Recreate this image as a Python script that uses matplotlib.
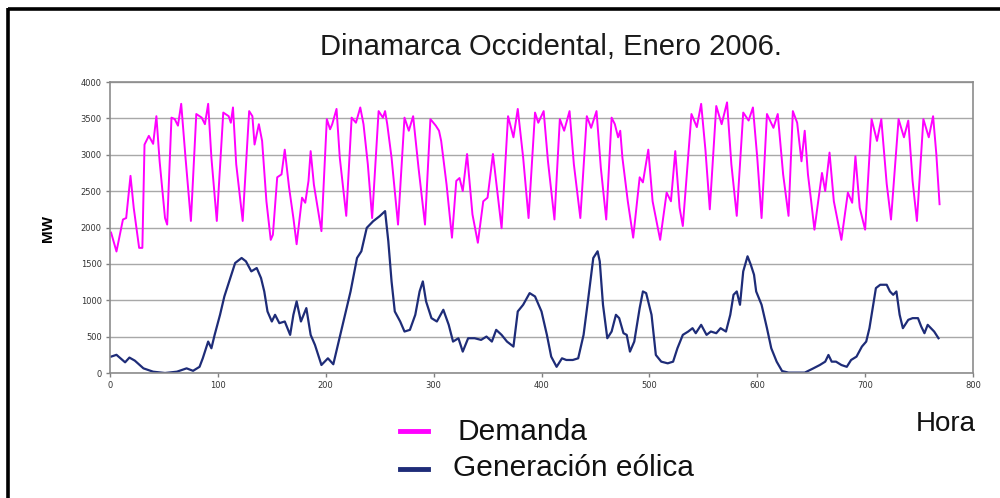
import matplotlib
matplotlib.use("Agg")
import matplotlib.pyplot as plt
from matplotlib.lines import Line2D

# ---------------- data (hour, MW) ----------------
demanda = [
    (1, 1930), (6, 1670), (12, 2110), (15, 2130), (19, 2710), (22, 2270), (27, 1720), (30, 1720),
    (32, 3140), (36, 3260), (40, 3150), (43, 3530), (46, 2910), (51, 2130), (53, 2040), (57, 3510),
    (60, 3490), (63, 3400), (66, 3700), (70, 2960), (75, 2090), (80, 3560), (85, 3510), (88, 3420),
    (91, 3700), (94, 2960), (99, 2090), (105, 3580), (110, 3530), (112, 3440), (114, 3650), (117, 2870),
    (123, 2090), (129, 3600), (132, 3530), (134, 3140), (138, 3420), (141, 3190), (145, 2360), (149, 1830),
    (151, 1900), (155, 2690), (159, 2730), (162, 3070), (166, 2550), (170, 2130), (173, 1770), (178, 2410),
    (181, 2340), (184, 2640), (186, 3050), (189, 2590), (196, 1950), (201, 3490), (204, 3350), (206, 3420),
    (210, 3630), (213, 2960), (219, 2160), (224, 3510), (228, 3440), (232, 3650), (235, 3420), (239, 2870),
    (243, 2130), (249, 3600), (253, 3510), (255, 3600), (257, 3420), (261, 2960), (267, 2040), (273, 3510),
    (277, 3330), (281, 3530), (286, 2820), (292, 2040), (297, 3490), (302, 3400), (305, 3330), (307, 3190),
    (312, 2590), (317, 1860), (321, 2640), (324, 2680), (327, 2500), (331, 3010), (336, 2180), (341, 1790),
    (346, 2360), (350, 2410), (355, 3010), (359, 2500), (363, 1990), (369, 3530), (374, 3240), (378, 3630),
    (383, 2960), (388, 2130), (394, 3580), (397, 3440), (402, 3600), (406, 2910), (412, 2110), (417, 3490),
    (421, 3330), (426, 3600), (430, 2870), (436, 2130), (442, 3530), (446, 3370), (451, 3600), (455, 2820),
    (460, 2110), (465, 3510), (468, 3420), (471, 3240), (473, 3330), (475, 2960), (480, 2360), (485, 1860),
    (491, 2690), (494, 2620), (499, 3070), (503, 2360), (510, 1830), (516, 2480), (520, 2360), (524, 3050),
    (528, 2270), (531, 2020), (539, 3560), (544, 3380), (548, 3700), (552, 3060), (556, 2250), (562, 3670),
    (567, 3420), (572, 3720), (576, 2870), (581, 2160), (587, 3580), (592, 3470), (596, 3650), (600, 2960),
    (604, 2130), (609, 3560), (615, 3370), (619, 3560), (624, 2730), (629, 2160), (633, 3600), (637, 3440),
    (641, 2910), (644, 3330), (647, 2730), (650, 2360), (653, 1970), (660, 2750), (663, 2500), (667, 3030),
    (671, 2360), (678, 1830), (684, 2480), (688, 2340), (691, 2980), (695, 2270), (700, 1970), (706, 3490),
    (711, 3190), (715, 3490), (720, 2600), (724, 2110), (731, 3490), (736, 3240), (740, 3470), (744, 2640),
    (748, 2090), (754, 3490), (759, 3240), (763, 3530), (766, 3010), (769, 2320),
]

eolica = [
    (1, 225), (6, 250), (14, 147), (18, 212), (23, 170), (31, 64), (40, 18), (51, 0), (62, 18), (71, 64),
    (77, 30), (83, 85), (86, 202), (91, 432), (94, 340), (97, 524), (102, 800), (106, 1052), (111, 1282),
    (116, 1512), (122, 1581), (126, 1535), (131, 1397), (136, 1443), (140, 1305), (143, 1121), (146, 846),
    (150, 708), (153, 800), (157, 685), (162, 708), (167, 524), (170, 800), (173, 984), (177, 708),
    (182, 892), (186, 524), (190, 386), (196, 110), (202, 202), (207, 120), (212, 432), (216, 685),
    (223, 1121), (229, 1581), (233, 1673), (238, 1995), (244, 2087), (250, 2156), (255, 2225), (258, 1811),
    (261, 1259), (264, 846), (269, 708), (273, 570), (278, 593), (283, 800), (287, 1121), (290, 1259),
    (293, 984), (298, 754), (303, 708), (309, 869), (314, 662), (318, 432), (323, 478), (327, 294),
    (332, 478), (338, 478), (344, 455), (349, 501), (354, 432), (358, 593), (363, 524), (368, 432),
    (374, 363), (378, 846), (383, 938), (389, 1098), (394, 1052), (400, 846), (405, 524), (409, 225),
    (414, 85), (419, 202), (423, 179), (429, 179), (434, 202), (439, 524), (443, 984), (448, 1581),
    (452, 1673), (454, 1535), (457, 938), (461, 478), (465, 570), (469, 800), (472, 754), (476, 547),
    (479, 524), (482, 294), (486, 432), (491, 892), (494, 1121), (497, 1098), (502, 800), (506, 248),
    (511, 156), (517, 133), (522, 156), (526, 340), (531, 524), (536, 570), (540, 616), (543, 547),
    (548, 662), (553, 524), (557, 570), (562, 547), (566, 616), (571, 570), (575, 800), (578, 1075),
    (581, 1121), (584, 938), (587, 1397), (591, 1604), (594, 1489), (597, 1351), (599, 1121), (604, 938),
    (609, 616), (613, 340), (618, 156), (623, 27), (629, 5), (636, 5), (644, 5), (652, 64), (658, 110),
    (663, 156), (666, 248), (669, 156), (673, 156), (678, 110), (683, 85), (687, 179), (692, 225),
    (697, 363), (701, 432), (704, 616), (707, 892), (710, 1167), (714, 1213), (720, 1213), (723, 1121),
    (726, 1075), (729, 1121), (732, 800), (735, 616), (740, 731), (744, 754), (749, 754), (752, 639),
    (755, 547), (758, 662), (761, 616), (764, 570), (768, 478),
]

x_ticks = [0, 100, 200, 300, 400, 500, 600, 700, 800]
y_ticks = [0, 500, 1000, 1500, 2000, 2500, 3000, 3500, 4000]

titulo = "Dinamarca Occidental, Enero 2006."
etiqueta_y = "MW"
etiqueta_x = "Hora"
leyenda = ["Demanda", "Generación eólica"]

col_dem = "#FF00FF"
col_eol = "#1E2C78"

# ---------------- figure ----------------
W, H = 1000, 498
fig = plt.figure(figsize=(W / 100, H / 100), dpi=100)
fig.patch.set_facecolor("white")

def fx(px):
    return px / W

def fy(py):
    return 1 - py / H

ax = fig.add_axes([fx(110), fy(373), fx(973) - fx(110), fy(82) - fy(373)])

dh, dv = zip(*demanda)
eh, ev = zip(*eolica)
ax.plot(dh, dv, color=col_dem, lw=1.4, solid_joinstyle="round")
ax.plot(eh, ev, color=col_eol, lw=1.6, solid_joinstyle="round")

ax.set_xlim(x_ticks[0], x_ticks[-1])
ax.set_ylim(y_ticks[0], y_ticks[-1])
ax.set_xticks(x_ticks)
ax.set_yticks(y_ticks)
ax.set_xticklabels([str(v) for v in x_ticks])
ax.set_yticklabels([str(v) for v in y_ticks])
ax.tick_params(axis="both", labelsize=6, colors="#808080", labelcolor="#333333",
               length=3, width=1, direction="out", pad=3)
ax.yaxis.grid(True, color="#A8A8A8", lw=1)
ax.set_axisbelow(True)
for s in ax.spines.values():
    s.set_color("#8C8C8C")
    s.set_linewidth(1.2)

# y label
fig.text(fx(48), fy(228), etiqueta_y, rotation=90, fontsize=11, fontweight="bold",
         family="Liberation Sans", ha="center", va="center")

# title
fig.text(fx(551), fy(47), titulo, fontsize=21, family="Liberation Sans",
         ha="center", va="center", color="#1a1a1a")

# x label
fig.text(fx(946), fy(424), etiqueta_x, fontsize=20, family="Liberation Sans",
         ha="center", va="center", color="#111111")

# legend (manual)
fig.add_artist(Line2D([fx(400), fx(428)], [fy(431), fy(431)], color=col_dem, lw=3.5,
                      transform=fig.transFigure))
fig.add_artist(Line2D([fx(400), fx(428)], [fy(469), fy(469)], color=col_eol, lw=3.5,
                      transform=fig.transFigure))
fig.text(fx(457), fy(432), leyenda[0], fontsize=21.5, family="Liberation Sans",
         ha="left", va="center", color="#111111")
fig.text(fx(453), fy(468), leyenda[1], fontsize=21.5, family="Liberation Sans",
         ha="left", va="center", color="#111111")

# outer frame (top and left black lines)
fig.add_artist(Line2D([fx(7.5), fx(1000)], [fy(9.5), fy(9.5)], color="black", lw=2.6,
                      transform=fig.transFigure, solid_capstyle="butt"))
fig.add_artist(Line2D([fx(7.5), fx(7.5)], [fy(8.2), fy(498)], color="black", lw=2.6,
                      transform=fig.transFigure, solid_capstyle="butt"))

fig.savefig("out.png", dpi=100)
